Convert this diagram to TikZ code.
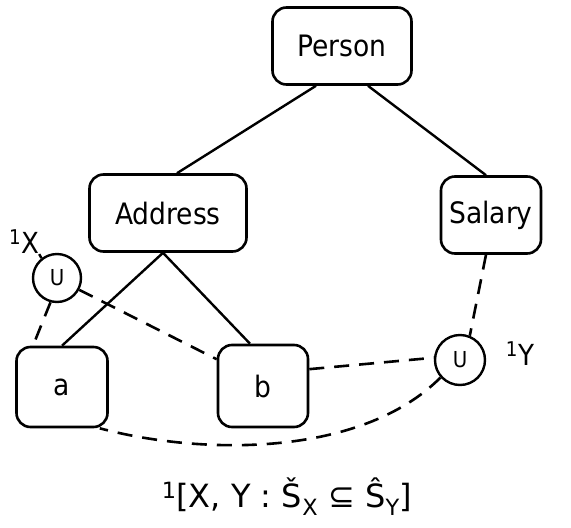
\documentclass[tikz,border=0pt]{standalone}
\usepackage{fontspec}
\setmainfont{DejaVu Sans Condensed}
\newfontfamily\wide{DejaVu Sans}
\usetikzlibrary{calc}

\begin{document}
\begin{tikzpicture}[x=1pt, y=-1pt,
  ent/.style={draw, line width=2.6pt, rounded corners=14pt, minimum height=77pt,
    inner sep=0pt, font=\fontsize{29.5}{32}\selectfont},
  uni/.style={draw, circle, line width=2.4pt, minimum size=48pt, inner sep=0pt,
    font=\fontsize{22}{24}\selectfont},
  lnk/.style={line width=2.4pt},
  dsh/.style={line width=2.6pt, dash pattern=on 15pt off 10pt}]
  \useasboundingbox (0,0) rectangle (571,528);

  % entities
  \node[ent, minimum width=139pt] (person) at (342,46) {Person};
  \node[ent, minimum width=157pt] (address) at (168,213) {Address};
  \node[ent, minimum width=100pt] (salary) at (491,215) {Salary};
  \node[ent, minimum width=91pt, minimum height=80pt] (a) at (62,387) {a};
  \node[ent, minimum width=90pt, minimum height=82pt] (b) at (263,386) {b};

  % union points
  \node[uni] (ux) at (57,278) {U};
  \node[uni, minimum size=50pt] (uy) at (460,360) {U};
  \node[inner sep=0pt, font=\fontsize{29}{30}\selectfont] (xlab) at (24,242) {\textsuperscript{1}X};
  \node[inner sep=0pt, font=\fontsize{29}{30}\selectfont] (ylab) at (520,354) {\textsuperscript{1}Y};

  % tree
  \draw[lnk] ([xshift=-26pt]person.south) -- ([xshift=9pt]address.north);
  \draw[lnk] ([xshift=26pt]person.south) -- ([xshift=-5pt]salary.north);
  \draw[lnk] ([xshift=-5pt]address.south) -- (a.north);
  \draw[lnk] ([xshift=-5pt]address.south) -- ([xshift=-13pt]b.north);

  % constraint
  \draw[lnk] (ux.128) -- (xlab.south east);
  \draw[dsh] (ux.255) -- ([xshift=-29pt]a.north);
  \draw[dsh] (ux.-28) -- (b.150);
  \draw[dsh] ([xshift=-5pt]salary.south) -- (uy.68);
  \draw[dsh] (b.20) -- (uy.175);
  \draw[dsh] (uy.222) .. controls (360,458) and (200,455) .. ([xshift=-9pt]a.south east);

  \node[font=\wide\fontsize{32}{34}\selectfont] (form) at (287,497)
    {\textsuperscript{1}[X, Y : Š\textsubscript{X} ⊆ Ŝ\textsubscript{Y}]};
\end{tikzpicture}
\end{document}
